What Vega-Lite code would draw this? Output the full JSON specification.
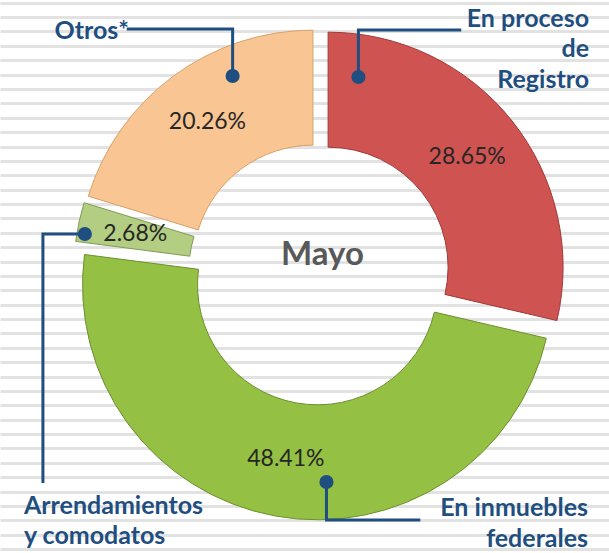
{
  "$schema": "https://vega.github.io/schema/vega-lite/v6.json",
  "width": 609,
  "height": 553,
  "padding": 0,
  "autosize": {"type": "none"},
  "background": "white",
  "config": {"view": {"stroke": null}, "font": "Lato"},
  "datasets": {
    "slices": [
      {"cat": "En proceso de Registro", "value": 28.65, "order": 1, "label": "28.65%"},
      {"cat": "En inmuebles federales", "value": 48.41, "order": 2, "label": "48.41%"},
      {"cat": "Arrendamientos y comodatos", "value": 2.68, "order": 3, "label": "2.68%"},
      {"cat": "Otros*", "value": 20.26, "order": 4, "label": "20.26%"}
    ],
    "callouts": [
      {"cat": "Otros*", "k": 0, "x": -37.02, "y": 84.26},
      {"cat": "Otros*", "k": 1, "x": -37.02, "y": 104.26},
      {"cat": "Otros*", "k": 2, "x": -82.13, "y": 104.26},
      {"cat": "En proceso de Registro", "k": 0, "x": 16.6, "y": 83.83},
      {"cat": "En proceso de Registro", "k": 1, "x": 16.6, "y": 103.83},
      {"cat": "En proceso de Registro", "k": 2, "x": 60.43, "y": 103.83},
      {"cat": "Arrendamientos y comodatos", "k": 0, "x": -100.0, "y": 17.02},
      {"cat": "Arrendamientos y comodatos", "k": 1, "x": -117.87, "y": 17.02},
      {"cat": "Arrendamientos y comodatos", "k": 2, "x": -117.87, "y": -88.94},
      {"cat": "En inmuebles federales", "k": 0, "x": 2.98, "y": -88.51},
      {"cat": "En inmuebles federales", "k": 1, "x": 2.98, "y": -104.68},
      {"cat": "En inmuebles federales", "k": 2, "x": 42.98, "y": -104.68}
    ],
    "rightLabels": [
      {"lines": ["Otros*"], "x": -81.28, "y": 100.0},
      {"lines": ["En proceso", "de", "Registro"], "x": 114.89, "y": 105.2},
      {"lines": ["En inmuebles", "federales"], "x": 114.47, "y": -102.98}
    ],
    "leftLabels": [
      {"lines": ["Arrendamientos", "y comodatos"], "x": -125.96, "y": -102.13}
    ],
    "centerLabels": [
      {"lines": ["Mayo"], "x": 1.28, "y": 3.83}
    ]
  },
  "layer": [
    {
      "data": {"values": [{}]},
      "mark": {"type": "rule", "opacity": 0},
      "encoding": {
        "y": {
          "datum": 0,
          "type": "quantitative",
          "scale": {"domain": [-0.19, 38.27], "reverse": true, "nice": false, "zero": false},
          "axis": {"title": null, "labels": false, "ticks": false, "domain": false, "grid": true, "gridColor": "#e2e2e2", "gridWidth": 3, "tickCount": 40}
        }
      }
    },
    {
      "layer": [
        {
          "data": {"name": "slices"},
          "transform": [
            {"stack": "value", "groupby": [], "sort": [{"field": "order"}], "as": ["v0", "v1"]},
            {"filter": "datum.order == 1"}
          ],
          "mark": {"type": "arc", "innerRadius": 120, "outerRadius": 235, "xOffset": 8.62, "yOffset": -6.84, "stroke": "#9e3b39", "strokeWidth": 1},
          "encoding": {
            "x": {"datum": 0, "type": "quantitative", "scale": {"domain": [-136.17, 123.4], "nice": false, "zero": false}, "axis": null},
            "y": {"datum": 0, "type": "quantitative", "scale": {"domain": [-118.72, 116.6], "nice": false, "zero": false}, "axis": null},
            "theta": {"field": "v0", "type": "quantitative", "scale": {"domain": [0, 100]}},
            "theta2": {"field": "v1"},
            "color": {"field": "cat", "type": "nominal", "legend": null, "scale": {"domain": ["En proceso de Registro", "En inmuebles federales", "Arrendamientos y comodatos", "Otros*"], "range": ["#cf5351", "#94c043", "#b3ce82", "#f9c592"]}}
          }
        },
        {
          "data": {"name": "slices"},
          "transform": [
            {"stack": "value", "groupby": [], "sort": [{"field": "order"}], "as": ["v0", "v1"]},
            {"filter": "datum.order == 2"}
          ],
          "mark": {"type": "arc", "innerRadius": 120, "outerRadius": 235, "xOffset": -1.96, "yOffset": 10.82, "stroke": "#6e8f31", "strokeWidth": 1},
          "encoding": {
            "x": {"datum": 0, "type": "quantitative", "scale": {"domain": [-136.17, 123.4], "nice": false, "zero": false}, "axis": null},
            "y": {"datum": 0, "type": "quantitative", "scale": {"domain": [-118.72, 116.6], "nice": false, "zero": false}, "axis": null},
            "theta": {"field": "v0", "type": "quantitative", "scale": {"domain": [0, 100]}},
            "theta2": {"field": "v1"},
            "color": {"field": "cat", "type": "nominal", "legend": null}
          }
        },
        {
          "data": {"name": "slices"},
          "transform": [
            {"stack": "value", "groupby": [], "sort": [{"field": "order"}], "as": ["v0", "v1"]},
            {"filter": "datum.order == 3"}
          ],
          "mark": {"type": "arc", "innerRadius": 120, "outerRadius": 235, "xOffset": -10.75, "yOffset": -2.33, "stroke": "#7f9a55", "strokeWidth": 1},
          "encoding": {
            "x": {"datum": 0, "type": "quantitative", "scale": {"domain": [-136.17, 123.4], "nice": false, "zero": false}, "axis": null},
            "y": {"datum": 0, "type": "quantitative", "scale": {"domain": [-118.72, 116.6], "nice": false, "zero": false}, "axis": null},
            "theta": {"field": "v0", "type": "quantitative", "scale": {"domain": [0, 100]}},
            "theta2": {"field": "v1"},
            "color": {"field": "cat", "type": "nominal", "legend": null}
          }
        },
        {
          "data": {"name": "slices"},
          "transform": [
            {"stack": "value", "groupby": [], "sort": [{"field": "order"}], "as": ["v0", "v1"]},
            {"filter": "datum.order == 4"}
          ],
          "mark": {"type": "arc", "innerRadius": 120, "outerRadius": 235, "xOffset": -6.54, "yOffset": -8.85, "stroke": "#d9a06a", "strokeWidth": 1},
          "encoding": {
            "x": {"datum": 0, "type": "quantitative", "scale": {"domain": [-136.17, 123.4], "nice": false, "zero": false}, "axis": null},
            "y": {"datum": 0, "type": "quantitative", "scale": {"domain": [-118.72, 116.6], "nice": false, "zero": false}, "axis": null},
            "theta": {"field": "v0", "type": "quantitative", "scale": {"domain": [0, 100]}},
            "theta2": {"field": "v1"},
            "color": {"field": "cat", "type": "nominal", "legend": null}
          }
        },
        {
          "data": {"name": "slices"},
          "mark": {"type": "text", "radius": 188.5, "font": "Lato", "fontSize": 23, "color": "#262626"},
          "encoding": {
            "x": {"datum": 0, "type": "quantitative", "scale": {"domain": [-136.17, 123.4], "nice": false, "zero": false}, "axis": null},
            "y": {"datum": 0, "type": "quantitative", "scale": {"domain": [-118.72, 116.6], "nice": false, "zero": false}, "axis": null},
            "theta": {"field": "value", "type": "quantitative", "stack": true, "scale": {"domain": [0, 100]}},
            "order": {"field": "order"},
            "text": {"field": "label"}
          }
        },
        {
          "data": {"name": "callouts"},
          "mark": {"type": "line", "color": "#1f4e80", "strokeWidth": 3},
          "encoding": {
            "x": {"field": "x", "type": "quantitative", "scale": {"domain": [-136.17, 123.4], "nice": false, "zero": false}, "axis": null},
            "y": {"field": "y", "type": "quantitative", "scale": {"domain": [-118.72, 116.6], "nice": false, "zero": false}, "axis": null},
            "detail": {"field": "cat"},
            "order": {"field": "k"}
          }
        },
        {
          "data": {"name": "callouts"},
          "transform": [{"filter": "datum.k == 0"}],
          "mark": {"type": "circle", "color": "#1f4e80", "size": 200, "opacity": 1},
          "encoding": {
            "x": {"field": "x", "type": "quantitative", "scale": {"domain": [-136.17, 123.4], "nice": false, "zero": false}, "axis": null},
            "y": {"field": "y", "type": "quantitative", "scale": {"domain": [-118.72, 116.6], "nice": false, "zero": false}, "axis": null}
          }
        },
        {
          "data": {"name": "rightLabels"},
          "mark": {"type": "text", "align": "right", "baseline": "alphabetic", "font": "Lato", "fontWeight": "bold", "fontSize": 25, "lineHeight": 30.5, "color": "#1f4e80"},
          "encoding": {
            "x": {"field": "x", "type": "quantitative", "scale": {"domain": [-136.17, 123.4], "nice": false, "zero": false}, "axis": null},
            "y": {"field": "y", "type": "quantitative", "scale": {"domain": [-118.72, 116.6], "nice": false, "zero": false}, "axis": null},
            "text": {"field": "lines"}
          }
        },
        {
          "data": {"name": "leftLabels"},
          "mark": {"type": "text", "align": "left", "baseline": "alphabetic", "font": "Lato", "fontWeight": "bold", "fontSize": 25, "lineHeight": 30, "color": "#1f4e80"},
          "encoding": {
            "x": {"field": "x", "type": "quantitative", "scale": {"domain": [-136.17, 123.4], "nice": false, "zero": false}, "axis": null},
            "y": {"field": "y", "type": "quantitative", "scale": {"domain": [-118.72, 116.6], "nice": false, "zero": false}, "axis": null},
            "text": {"field": "lines"}
          }
        },
        {
          "data": {"name": "centerLabels"},
          "mark": {"type": "text", "align": "center", "baseline": "alphabetic", "font": "Lato", "fontWeight": "bold", "fontSize": 33, "color": "#595959"},
          "encoding": {
            "x": {"field": "x", "type": "quantitative", "scale": {"domain": [-136.17, 123.4], "nice": false, "zero": false}, "axis": null},
            "y": {"field": "y", "type": "quantitative", "scale": {"domain": [-118.72, 116.6], "nice": false, "zero": false}, "axis": null},
            "text": {"field": "lines"}
          }
        }
      ]
    }
  ],
  "resolve": {"scale": {"y": "independent", "x": "independent"}}
}
